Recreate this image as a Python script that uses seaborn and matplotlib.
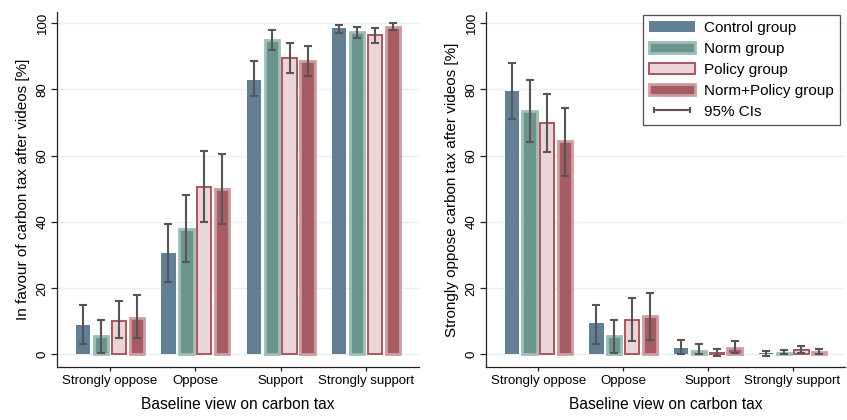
import numpy as np
import pandas as pd
import matplotlib
matplotlib.use("Agg")
import matplotlib.pyplot as plt
import seaborn as sns
from matplotlib.patches import Patch
from matplotlib.lines import Line2D

categories = ["Strongly oppose", "Oppose", "Support", "Strongly support"]
groups = ["Control group", "Norm group", "Policy group", "Norm+Policy group"]

# Left panel: in favour of carbon tax [%]
favour_mean = {
    "Control group":     [9.0, 30.5, 83.0, 98.5],
    "Norm group":        [5.5, 38.0, 95.0, 97.5],
    "Policy group":      [10.0, 50.5, 89.5, 96.5],
    "Norm+Policy group": [11.0, 50.0, 88.5, 99.0],
}
favour_lo = {
    "Control group":     [3.0, 22.0, 78.0, 97.0],
    "Norm group":        [0.5, 28.0, 92.0, 95.5],
    "Policy group":      [5.0, 40.0, 85.0, 94.0],
    "Norm+Policy group": [5.0, 39.5, 84.0, 98.0],
}
favour_hi = {
    "Control group":     [15.0, 39.5, 88.5, 99.5],
    "Norm group":        [10.5, 48.0, 98.0, 99.0],
    "Policy group":      [16.0, 61.5, 94.0, 98.5],
    "Norm+Policy group": [18.0, 60.5, 93.0, 100.0],
}

# Right panel: strongly oppose carbon tax [%]
oppose_mean = {
    "Control group":     [79.5, 9.5, 2.0, 0.3],
    "Norm group":        [73.5, 5.5, 1.0, 0.5],
    "Policy group":      [70.0, 10.5, 0.5, 1.2],
    "Norm+Policy group": [64.5, 11.5, 2.0, 0.8],
}
oppose_lo = {
    "Control group":     [71.0, 3.0, 0.0, -0.5],
    "Norm group":        [64.0, 0.5, 0.0, 0.0],
    "Policy group":      [61.0, 4.0, -0.5, 0.3],
    "Norm+Policy group": [54.0, 4.5, 0.5, 0.0],
}
oppose_hi = {
    "Control group":     [88.0, 15.0, 4.5, 1.0],
    "Norm group":        [83.0, 10.5, 3.0, 1.2],
    "Policy group":      [78.5, 17.0, 1.5, 2.5],
    "Norm+Policy group": [74.5, 18.5, 4.0, 1.5],
}

face = {"Control group": "#617f95", "Norm group": "#6b968d",
        "Policy group": "#ead6d8", "Norm+Policy group": "#a75b63"}
edge = {"Control group": "#617f95", "Norm group": "#9dbfb8",
        "Policy group": "#b0545f", "Norm+Policy group": "#cf9ca2"}
elw = {"Control group": 0.0, "Norm group": 2.0,
       "Policy group": 1.4, "Norm+Policy group": 2.0}
ecol = "#555555"

plt.rcParams['font.family'] = ['Liberation Sans', 'DejaVu Sans']

fig = plt.figure(figsize=(8.47, 4.2), dpi=100)
ax1 = fig.add_axes([57/847, 53/420, 362/847, 355/420])
ax2 = fig.add_axes([486/847, 53/420, 359/847, 355/420])


def long_df(mean, lo, hi):
    rows = []
    for g in groups:
        for i, c in enumerate(categories):
            rows.append({"view": c, "group": g, "value": mean[g][i],
                         "lo": lo[g][i], "hi": hi[g][i]})
    return pd.DataFrame(rows)


def draw(ax, mean, lo, hi, ylabel):
    df = long_df(mean, lo, hi)
    sns.barplot(data=df, x="view", y="value", hue="group", order=categories,
                hue_order=groups, palette=face, errorbar=None, width=0.84,
                gap=0.2, ax=ax, legend=False, zorder=2)
    for cont, g in zip(ax.containers, groups):
        xs, ys, lows, highs = [], [], [], []
        for p, i in zip(cont.patches, range(len(categories))):
            p.set_facecolor(face[g])
            p.set_edgecolor(edge[g])
            p.set_linewidth(elw[g])
            xs.append(p.get_x() + p.get_width() / 2)
            ys.append(mean[g][i])
            lows.append(mean[g][i] - lo[g][i])
            highs.append(hi[g][i] - mean[g][i])
        ax.errorbar(xs, ys, yerr=[lows, highs], fmt="none", ecolor=ecol,
                    elinewidth=1.5, capsize=3, capthick=1.5, zorder=4)
    ax.set_ylim(-3.8, 103.4)
    ax.set_xlim(-0.62, 3.62)
    ax.set_yticks([0, 20, 40, 60, 80, 100])
    ax.yaxis.grid(True, color="#e8f0f2", linewidth=1.0, zorder=0)
    ax.xaxis.grid(False)
    ax.set_axisbelow(True)
    for s in ["top", "right"]:
        ax.spines[s].set_visible(False)
    for s in ["left", "bottom"]:
        ax.spines[s].set_color("#222222")
        ax.spines[s].set_linewidth(0.9)
    ax.tick_params(axis="y", length=4, width=0.9, color="#222222",
                   labelsize=9.5, labelrotation=90, pad=2)
    for t in ax.get_yticklabels():
        t.set_verticalalignment("center")
    ax.tick_params(axis="x", length=3, width=0.9, color="#222222",
                   labelsize=9.5, pad=3)
    ax.set_ylabel(ylabel, fontsize=11, labelpad=5)
    ax.set_xlabel("Baseline view on carbon tax", fontsize=11.2, labelpad=7)
    ax.set_facecolor("white")


draw(ax1, favour_mean, favour_lo, favour_hi,
     "In favour of carbon tax after videos [%]")
draw(ax2, oppose_mean, oppose_lo, oppose_hi,
     "Strongly oppose carbon tax after videos [%]")

handles = [Patch(facecolor=face[g], edgecolor=edge[g], linewidth=elw[g])
           for g in groups]
handles.append(Line2D([0], [0], color=ecol, lw=1.5, marker="|",
                      markersize=5, markeredgewidth=1.5))
labels = groups + ["95% CIs"]
leg = ax2.legend(handles, labels, loc="upper right",
                 bbox_to_anchor=(840/847, 1 - 15/420),
                 bbox_transform=fig.transFigure,
                 fontsize=11, frameon=True, fancybox=False, numpoints=2,
                 handlelength=3.0, handleheight=0.75, labelspacing=0.45,
                 borderpad=0.4, handletextpad=0.6, borderaxespad=0.0)
leg.get_frame().set_edgecolor("#222222")
leg.get_frame().set_linewidth(0.9)

fig.savefig("out.png", dpi=100, facecolor="white")
